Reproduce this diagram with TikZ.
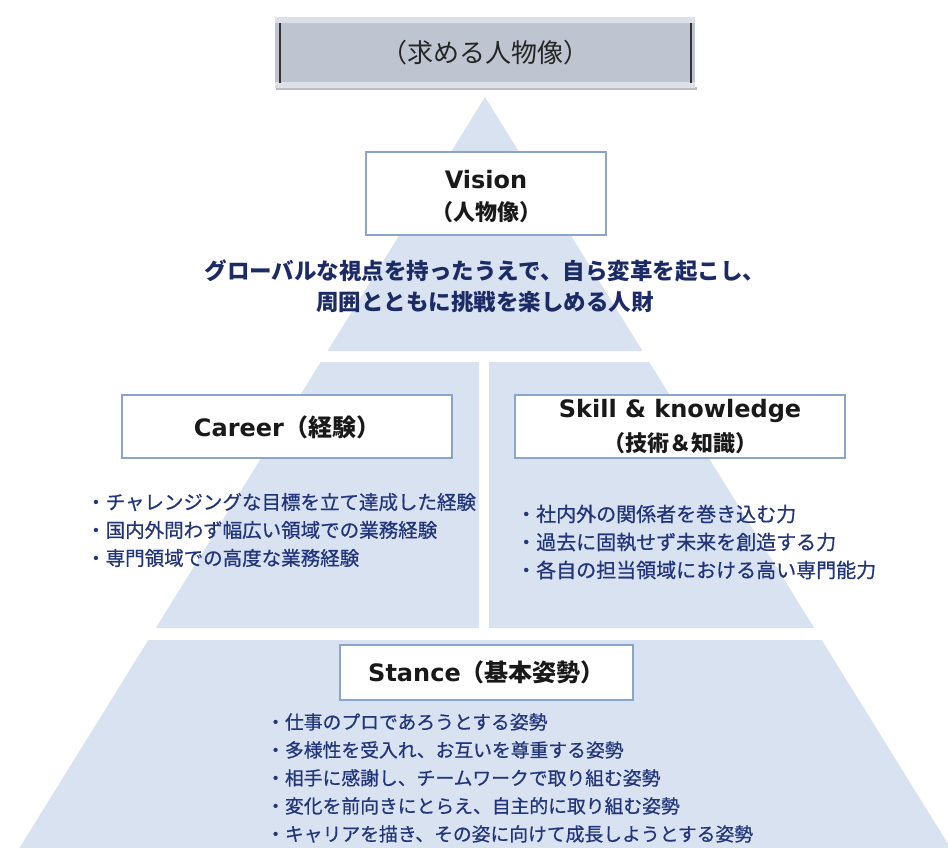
\documentclass[tikz,border=0pt]{standalone}
\usepackage{fontspec}
\setmainfont{DejaVu Sans}
\newfontfamily\cjk{Noto Sans CJK JP}
\newfontfamily\cjkm[FakeBold=0.6]{Noto Sans CJK JP}
\newfontfamily\lat{DejaVu Sans}
\definecolor{pyr}{HTML}{D9E2F1}
\definecolor{bxline}{HTML}{8AA5CB}
\definecolor{navy}{HTML}{1C2A66}
\definecolor{bul}{HTML}{22357A}
\definecolor{topfill}{HTML}{BEC4D0}
\definecolor{toplight}{HTML}{DCE0E8}
\tikzset{
  layer/.style={fill=pyr, draw=none},
  whitebox/.style={draw=bxline, line width=1.3pt, fill=white},
  head/.style={font=\lat\bfseries\fontsize{24}{32}\selectfont, text=black!90, align=center},
  bullets/.style={font=\cjkm\fontsize{19.5}{28}\selectfont, text=bul, align=left, anchor=west, inner sep=0pt},
}
\begin{document}
\begin{tikzpicture}[x=1pt,y=-1pt]
\useasboundingbox (0,0) rectangle (948,848);
\clip (0,0) rectangle (948,848);
% pyramid layers
\path[layer] (485,97) -- (642.5,351) -- (327.5,351) -- cycle;
\path[layer] (320.7,362) -- (479,362) -- (479,628) -- (155.8,628) -- cycle;
\path[layer] (489,362) -- (649.3,362) -- (814.2,628) -- (489,628) -- cycle;
\path[layer] (148.3,640) -- (821.7,640) -- (950.6,848) -- (19.4,848) -- cycle;
% top title box
\fill[black!25] (276,87) rectangle (697,90);
\fill[topfill] (275,17) rectangle (695,88);
\fill[toplight] (275,17) rectangle (695,23);
\fill[toplight] (275,82) rectangle (695,88);
\draw[black!80, line width=2.5pt] (280,23) -- (280,83);
\draw[black!80, line width=2.5pt] (691,23) -- (691,83);
\node[font=\cjk\fontsize{26}{30}\selectfont, text=black!85] (title) at (485,53) {（求める人物像）};
% vision
\node[whitebox, minimum width=240pt, minimum height=83pt] (vbox) at (486,193.5) {};
\node[head] (vision) at (486,180) {Vision};
\node[head, font=\cjk\bfseries\fontsize{22}{28}\selectfont] (vsub) at (486,212) {（人物像）};
\node[font=\cjk\bfseries\fontsize{22.5}{31}\selectfont, text=navy, align=center] (tag) at (485,286)
  {グローバルな視点を持ったうえで、自ら変革を起こし、\\周囲とともに挑戦を楽しめる人財};
% career
\node[whitebox, minimum width=330pt, minimum height=63pt] (cbox) at (287,426.5) {};
\node[head] (career) at (287,427) {Career{\cjk（経験）}};
\node[bullets] (clist) at (86,530)
  {・チャレンジングな目標を立て達成した経験\\・国内外問わず幅広い領域での業務経験\\・専門領域での高度な業務経験};
% skill
\node[whitebox, minimum width=330pt, minimum height=63pt] (sbox) at (680,426.5) {};
\node[head] (skill) at (680,411) {Skill \& knowledge};
\node[head, font=\cjk\bfseries\fontsize{22}{28}\selectfont] (ssub) at (680,443) {（技術＆知識）};
\node[bullets, font=\cjkm\fontsize{20}{28}\selectfont] (slist) at (516,542)
  {・社内外の関係者を巻き込む力\\・過去に固執せず未来を創造する力\\・各自の担当領域における高い専門能力};
% stance
\node[whitebox, minimum width=293pt, minimum height=55pt] (stbox) at (486.5,672.5) {};
\node[head] (stance) at (486.5,672) {Stance{\cjk（基本姿勢）}};
\node[bullets, font=\cjkm\fontsize{18.8}{28}\selectfont] (stlist) at (266,778)
  {・仕事のプロであろうとする姿勢\\・多様性を受入れ、お互いを尊重する姿勢\\・相手に感謝し、チームワークで取り組む姿勢\\・変化を前向きにとらえ、自主的に取り組む姿勢\\・キャリアを描き、その姿に向けて成長しようとする姿勢};
\end{tikzpicture}
\end{document}
